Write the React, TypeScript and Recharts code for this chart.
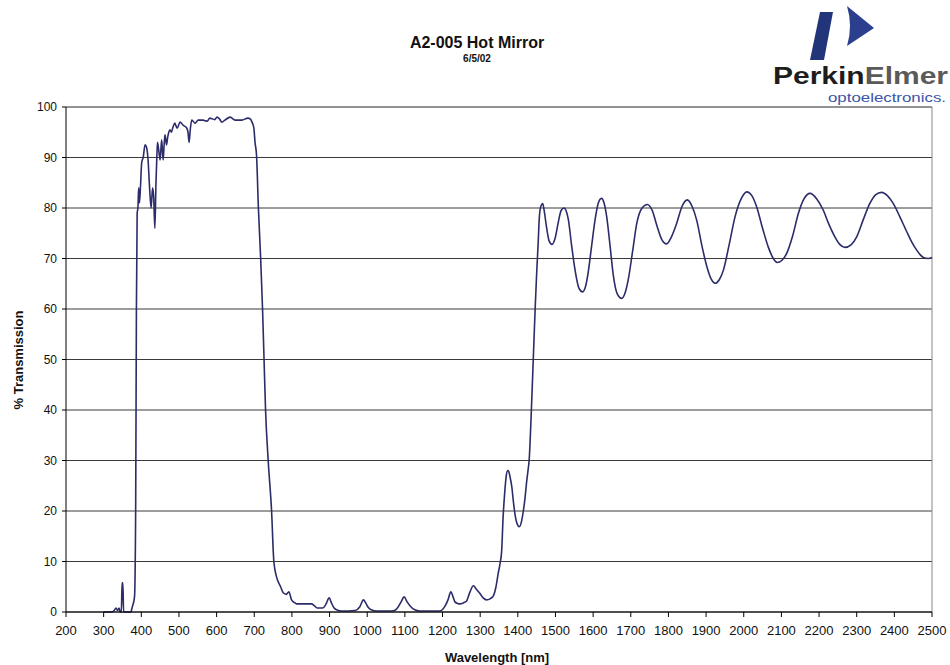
import { CartesianGrid, Line, LineChart, ReferenceLine, XAxis, YAxis } from "recharts";

// wavelength (nm) and % transmission
const wavelengthNm = [
  300, 320, 328, 333, 337, 341, 344, 347, 349, 351, 353, 372, 376, 382, 385, 387, 389, 391, 393, 395,
  398, 401, 405, 410, 414, 418, 422, 426, 430, 433, 436, 439, 441, 443, 447, 450, 454, 458, 461, 463,
  467, 470, 473, 476, 480, 484, 489, 495, 503, 511, 521, 524, 527, 530, 534, 543, 551, 564, 575, 582,
  595, 601, 608, 614, 622, 636, 649, 667, 683, 690, 694, 699, 702, 706, 711, 717, 722, 726, 730, 737,
  746, 752, 759, 770, 777, 785, 792, 799, 808, 813, 852, 860, 867, 882, 890, 899, 905, 912, 920, 932,
  968, 980, 990, 996, 1002, 1012, 1025, 1065, 1075, 1082, 1090, 1098, 1106, 1114, 1125, 1140, 1193, 1200, 1207, 1215,
  1222, 1228, 1233, 1240, 1246, 1255, 1264, 1272, 1282, 1290, 1300, 1308, 1317, 1326, 1335, 1342, 1348, 1353, 1357, 1361,
  1365, 1369, 1373, 1376, 1380, 1384, 1388, 1392, 1398, 1404, 1410, 1415, 1419, 1423, 1427, 1430, 1436, 1441, 1446, 1450,
  1454, 1457, 1459, 1462, 1466, 1470, 1476, 1483, 1491, 1499, 1507, 1515, 1523, 1528, 1534, 1543, 1552, 1562, 1572, 1580,
  1587, 1596, 1605, 1613, 1622, 1629, 1636, 1645, 1653, 1664, 1676, 1685, 1693, 1705, 1716, 1730, 1744, 1757, 1769, 1782,
  1795, 1808, 1822, 1836, 1850, 1863, 1875, 1889, 1902, 1913, 1924, 1935, 1946, 1962, 1977, 1993, 2008, 2021, 2034, 2050,
  2065, 2077, 2089, 2101, 2114, 2130, 2145, 2160, 2176, 2194, 2211, 2226, 2242, 2255, 2269, 2285, 2300, 2318, 2335, 2350,
  2366, 2382, 2397, 2415, 2433, 2446, 2459, 2468, 2477, 2490, 2500,
];

const transmissionPct = [
  0, 0, 0.3, 0.8, 0.3, 0.8, 0, 0, 5.8, 5.8, 0, 0, 1, 3, 20, 60, 79, 80, 84, 81,
  84.5, 89, 90, 92.5, 92, 89.5, 84, 80, 84, 82, 76, 85, 89.5, 93, 91, 89.5, 93.5, 89.5, 93, 94.5,
  92.5, 94, 95, 95.5, 95, 96, 96.8, 95.8, 97, 96.4, 95.8, 95, 93, 95.5, 97.4, 96.8, 97.4, 97.4, 97.2, 97.8,
  97.5, 98, 97.6, 97, 97.4, 98, 97.4, 97.4, 97.8, 97.6, 97, 95.8, 93, 90.5, 80, 70, 60, 50, 40, 30,
  20, 10, 7, 5, 3.8, 3.5, 4, 2.4, 1.8, 1.6, 1.6, 1.2, 0.8, 0.8, 1.5, 2.8, 1.8, 0.8, 0.4, 0.2,
  0.3, 1, 2.4, 1.8, 1, 0.4, 0.2, 0.2, 0.4, 1, 2, 3, 2, 1.2, 0.5, 0.2, 0.2, 0.5, 1.2, 2.5,
  4, 3, 2, 1.7, 1.6, 1.8, 2.2, 3.8, 5.2, 4.5, 3.6, 2.8, 2.4, 2.6, 3.2, 5, 7.7, 9.7, 12, 18.9,
  23.5, 26.8, 28, 27.8, 26.5, 24.8, 22, 19.6, 17.5, 16.9, 18, 20.2, 22.5, 25.5, 28, 30, 40, 50, 60, 67,
  73, 78, 79.6, 80.5, 80.9, 79.5, 76.3, 73.5, 72.8, 74, 77, 79.5, 80, 79.5, 77.8, 72.5, 67.7, 64.2, 63.4, 64.5,
  67.3, 72.5, 77.6, 80.8, 81.9, 81, 78.3, 72.5, 67, 63, 62.1, 63.2, 65.7, 71.5, 77, 80, 80.7, 79.5, 76.6, 73.8,
  72.9, 74.3, 77, 80.3, 81.6, 80.3, 77.6, 72.5, 68.4, 66, 65.1, 65.8, 67.7, 73, 78.3, 81.8, 83.2, 82.5, 80.3, 76,
  72.3, 70.2, 69.2, 69.6, 71, 74.5, 78.9, 81.8, 82.9, 81.8, 79.6, 76.8, 74.3, 72.8, 72.2, 72.7, 74.3, 77.8, 80.9, 82.6,
  83.1, 82.4, 80.9, 78.2, 75.3, 73.3, 71.7, 70.8, 70.2, 70, 70.2,
];

const xTicks = [
  200, 300, 400, 500, 600, 700, 800, 900, 1000, 1100, 1200, 1300, 1400, 1500, 1600, 1700, 1800, 1900,
  2000, 2100, 2200, 2300, 2400, 2500,
];
const yTicks = [0, 10, 20, 30, 40, 50, 60, 70, 80, 90, 100];

const data = wavelengthNm.map((nm, i) => ({ nm, t: transmissionPct[i] }));

const FONT = '"Liberation Sans", Arial, Helvetica, sans-serif';
const LINE = "#2b2c69";

function Logo() {
  return (
    <g>
      <polygon points="820,12 833,12 824,60 810,60" fill="#23357a" />
      <path d="M847,6 L874,28 L847,46 Q853,26 847,6 Z" fill="#2c3f8f" />
      <text
        x={773}
        y={84}
        fontFamily={FONT}
        fontWeight="bold"
        fontSize={23}
        textLength={175}
        lengthAdjust="spacingAndGlyphs"
      >
        <tspan fill="#1d1d1d">Perkin</tspan>
        <tspan fill="#5a5a5a">Elmer</tspan>
      </text>
      <text
        x={828}
        y={102}
        fontFamily={FONT}
        fontSize={13}
        fill="#3a55a8"
        textLength={118}
        lengthAdjust="spacingAndGlyphs"
      >
        optoelectronics.
      </text>
    </g>
  );
}

export default function App() {
  return (
    <div style={{ position: "absolute", left: 0, top: 0, width: 950, height: 665, background: "#fff" }}>
      <LineChart
        width={950}
        height={665}
        data={data}
        margin={{ top: 107, right: 18, bottom: 23, left: 0 }}
      >
        <CartesianGrid vertical={false} stroke="#3a3a3a" strokeWidth={1} />
        <XAxis
          dataKey="nm"
          type="number"
          domain={[200, 2500]}
          ticks={xTicks}
          interval={0}
          height={30}
          tickSize={5}
          tickMargin={9}
          stroke="#000"
          tick={{ fill: "#111", fontSize: 13, fontFamily: FONT }}
        />
        <YAxis
          type="number"
          domain={[0, 100]}
          ticks={yTicks}
          interval={0}
          width={66}
          tickSize={4}
          tickMargin={5}
          stroke="#000"
          tick={{ fill: "#111", fontSize: 12, fontFamily: FONT }}
        />
        <ReferenceLine x={2500} stroke="#888" />
        <ReferenceLine y={100} stroke="#888" />
        <Line
          dataKey="t"
          type="monotoneX"
          stroke={LINE}
          strokeWidth={1.6}
          dot={false}
          isAnimationActive={false}
        />
      </LineChart>
      <svg
        width={950}
        height={665}
        style={{ position: "absolute", left: 0, top: 0, pointerEvents: "none" }}
      >
        <text x={477} y={48} textAnchor="middle" fontFamily={FONT} fontWeight="bold" fontSize={16} fill="#111">
          A2-005 Hot Mirror
        </text>
        <text x={477} y={62} textAnchor="middle" fontFamily={FONT} fontWeight="bold" fontSize={10} fill="#111">
          6/5/02
        </text>
        <text
          x={0}
          y={0}
          transform="translate(23,360) rotate(-90)"
          textAnchor="middle"
          fontFamily={FONT}
          fontWeight="bold"
          fontSize={13}
          fill="#111"
        >
          % Transmission
        </text>
        <text x={497} y={662} textAnchor="middle" fontFamily={FONT} fontWeight="bold" fontSize={13} fill="#111">
          Wavelength [nm]
        </text>
        <Logo />
      </svg>
    </div>
  );
}
